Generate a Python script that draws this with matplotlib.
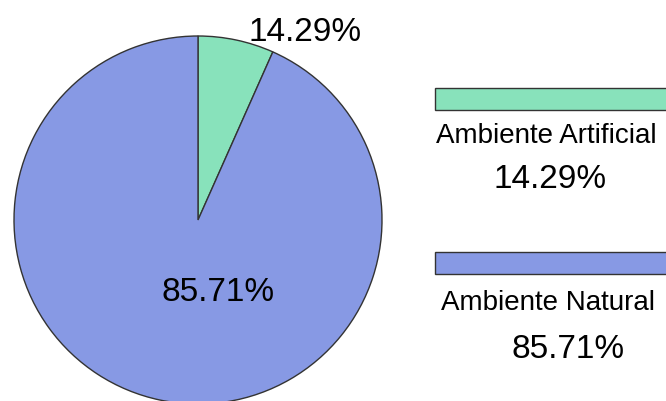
import matplotlib
matplotlib.use('Agg')
import matplotlib.pyplot as plt
import matplotlib.patches as mpatches

# Data
categories = ['Ambiente Artificial', 'Ambiente Natural']
sizes = [1, 14]                      # wedge sizes as drawn
pct_labels = ['14.29%', '85.71%']    # labels as printed
colors = ['#88e2bb', '#8799e4']

W, H = 666, 401
fig = plt.figure(figsize=(W / 100, H / 100), dpi=100)
ax = fig.add_axes([0, 0, 1, 1])

# pie in pixel coords (y up)
cx, cy, r = 198, H - 220, 184
wedges, _ = ax.pie(sizes, colors=colors, startangle=90, counterclock=False,
                   center=(cx, cy), radius=r,
                   wedgeprops=dict(edgecolor='#333333', linewidth=1))
ax.set_xlim(0, W)
ax.set_ylim(0, H)
ax.set_aspect('equal')
ax.axis('off')

font = 'Liberation Sans'
fs = 24

# labels on the pie (positions are baselines, px from top)
ax.text(305, H - 41, pct_labels[0], ha='center', va='baseline', fontsize=fs, family=font)
ax.text(218, H - 301, pct_labels[1], ha='center', va='baseline', fontsize=fs, family=font)

# legend-like blocks on the right
rect_y = [88, 252]
name_xy = [(546, 143), (548, 310)]
pct_xy = [(550, 188), (568, 358)]
for i in range(len(categories)):
    ax.add_patch(mpatches.Rectangle((435, H - rect_y[i] - 22), 260, 22,
                                    facecolor=colors[i], edgecolor='#333333',
                                    linewidth=1, clip_on=True))
    ax.text(name_xy[i][0], H - name_xy[i][1], categories[i], ha='center', va='baseline',
            fontsize=20, family=font)
    ax.text(pct_xy[i][0], H - pct_xy[i][1], pct_labels[i], ha='center', va='baseline',
            fontsize=fs, family=font)

fig.savefig('out.png', dpi=100)
